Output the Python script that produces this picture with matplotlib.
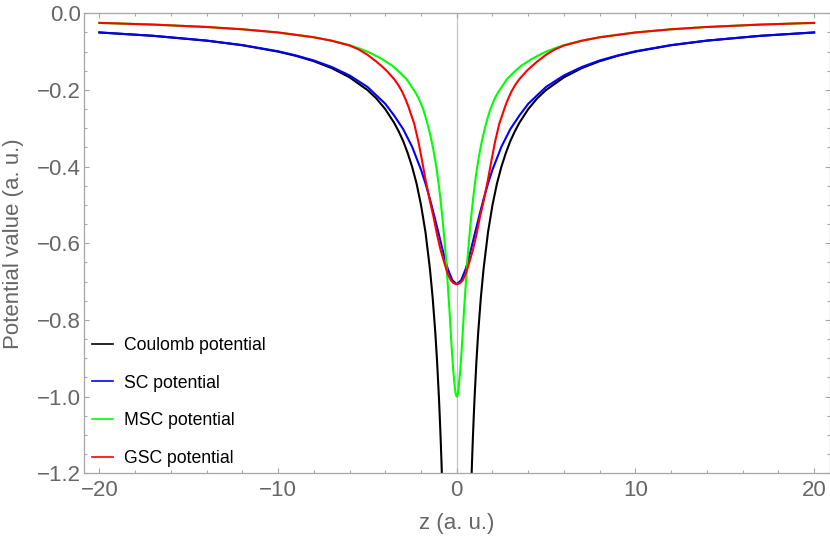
import numpy as np
import matplotlib
matplotlib.use("Agg")
import matplotlib.pyplot as plt
from matplotlib.ticker import MultipleLocator, FuncFormatter

plt.rcParams["font.family"] = ["Liberation Sans", "DejaVu Sans"]

# values for z >= 0 (curves are symmetric in z)
coulomb_z = [0.8, 0.85, 0.9, 0.95, 1.0, 1.1, 1.2, 1.35, 1.5, 1.75, 2.0, 2.25, 2.5,
             2.75, 3.0, 3.25, 3.5, 4.0, 4.5, 5.0, 6.0, 7.0, 8.0, 9.0, 10.0, 12.0,
             14.0, 17.0, 20.0]
coulomb_v = [-1.25, -1.176, -1.111, -1.053, -1.0, -0.909, -0.833, -0.741, -0.667,
             -0.571, -0.5, -0.444, -0.4, -0.364, -0.333, -0.308, -0.286, -0.25,
             -0.222, -0.2, -0.167, -0.143, -0.125, -0.111, -0.1, -0.0833, -0.0714,
             -0.0588, -0.05]

sc_z = [0, 0.25, 0.5, 0.75, 1.0, 1.25, 1.5, 1.75, 2.0, 2.5, 3.0, 3.5, 4.0, 4.5,
        5.0, 6.0, 7.0, 8.0, 9.0, 10.0, 12.0, 14.0, 17.0, 20.0]
sc_v = [-0.707, -0.696, -0.667, -0.625, -0.577, -0.530, -0.485, -0.444, -0.408,
        -0.348, -0.302, -0.267, -0.236, -0.214, -0.192, -0.162, -0.140, -0.123,
        -0.110, -0.099, -0.0829, -0.0711, -0.0586, -0.0499]

msc_z = [0, 0.05, 0.1, 0.2, 0.3, 0.4, 0.5, 0.6, 0.7, 0.8, 0.9, 1.0, 1.1, 1.2,
         1.3, 1.4, 1.5, 1.6, 1.73, 1.86, 2.0, 2.15, 2.33, 2.55, 2.8, 3.0, 3.17,
         3.6, 4.2, 4.6, 5.0, 5.5, 6.0, 7.0, 8.0, 10.0, 12.0, 14.0, 17.0, 20.0]
msc_v = [-1.0, -0.995, -0.98, -0.93, -0.86, -0.78, -0.71, -0.64, -0.585, -0.535,
         -0.49, -0.45, -0.415, -0.385, -0.358, -0.335, -0.314, -0.295, -0.273,
         -0.253, -0.236, -0.22, -0.205, -0.19, -0.172, -0.163, -0.155, -0.137,
         -0.119, -0.109, -0.1, -0.091, -0.083, -0.0715, -0.0625, -0.05, -0.0417,
         -0.0357, -0.0294, -0.025]

gsc_z = [0, 0.1, 0.2, 0.34, 0.5, 0.61, 0.75, 0.9, 1.1, 1.3, 1.5, 1.73, 1.96,
         2.14, 2.38, 2.55, 2.7, 2.87, 3.05, 3.27, 3.5, 3.92, 4.2, 4.5, 5.0, 5.5,
         6.0, 7.0, 8.0, 10.0, 12.0, 14.0, 17.0, 20.0]
gsc_v = [-0.706, -0.7055, -0.703, -0.696, -0.68, -0.664, -0.642, -0.618, -0.578,
         -0.531, -0.49, -0.438, -0.38, -0.336, -0.288, -0.265, -0.244, -0.224,
         -0.205, -0.187, -0.172, -0.150, -0.138, -0.126, -0.108, -0.094, -0.084,
         -0.0715, -0.0625, -0.05, -0.0417, -0.0357, -0.0294, -0.025]

labels = ["Coulomb potential", "SC potential", "MSC potential", "GSC potential"]
colors = ["#000000", "#0000ff", "#00ff00", "#ff0000"]


def mirror(z, v):
    z = np.asarray(z, dtype=float)
    v = np.asarray(v, dtype=float)
    if z[0] == 0:
        return np.concatenate([-z[:0:-1], z]), np.concatenate([v[:0:-1], v])
    return np.concatenate([-z[::-1], z]), np.concatenate([v[::-1], v])


def minus_fmt(val, pos):
    s = "%.1f" % val
    if s == "-0.0":
        s = "0.0"
    return s.replace("-", "\u2212")


fig = plt.figure(figsize=(8.3, 5.37), dpi=100)
ax = fig.add_axes([84 / 830, 1 - 473.3 / 537, 745.5 / 830, 460 / 537])

frame_gray = "#a6a6a6"
text_gray = "#666666"

ax.axvline(0, color="#c4c4c4", lw=0.9, zorder=1)

# Coulomb: two separate branches
cz = np.asarray(coulomb_z)
cv = np.asarray(coulomb_v)
ax.plot(-cz, cv, color=colors[0], lw=1.5, label=labels[0], zorder=2)
ax.plot(cz, cv, color=colors[0], lw=1.5, zorder=2)

for z, v, lab, col, zo in [(sc_z, sc_v, labels[1], colors[1], 3),
                           (msc_z, msc_v, labels[2], colors[2], 4),
                           (gsc_z, gsc_v, labels[3], colors[3], 5)]:
    zz, vv = mirror(z, v)
    ax.plot(zz, vv, color=col, lw=1.5, label=lab, zorder=zo)

ax.set_xlim(-20.86, 20.86)
ax.set_ylim(-1.2, 0.0)

ax.xaxis.set_major_locator(MultipleLocator(10))
ax.xaxis.set_minor_locator(MultipleLocator(2))
ax.yaxis.set_major_locator(MultipleLocator(0.2))
ax.yaxis.set_minor_locator(MultipleLocator(0.05))
ax.yaxis.set_major_formatter(FuncFormatter(minus_fmt))

for s in ax.spines.values():
    s.set_color(frame_gray)
    s.set_linewidth(0.9)

ax.tick_params(which="both", direction="in", top=True, right=True,
               color=frame_gray, width=0.8, labelcolor=text_gray, labelsize=16)
ax.tick_params(which="major", length=3.3)
ax.tick_params(which="minor", length=2.0)
ax.tick_params(axis="x", pad=5)
ax.tick_params(axis="y", pad=2.5)

ax.set_xlabel("z (a. u.)", fontsize=16, color=text_gray, labelpad=8.5)
ax.set_ylabel("Potential value (a. u.)", fontsize=16, color=text_gray)
ax.yaxis.set_label_coords(-0.08, 0.5)

leg = ax.legend(loc="lower left", bbox_to_anchor=(0.011, 0.014), frameon=False,
                fontsize=12.7, handlelength=1.2, handletextpad=0.6,
                labelspacing=1.17, borderpad=0, borderaxespad=0)
for line in leg.get_lines():
    line.set_linewidth(1.2)

fig.savefig("out.png", dpi=100)
